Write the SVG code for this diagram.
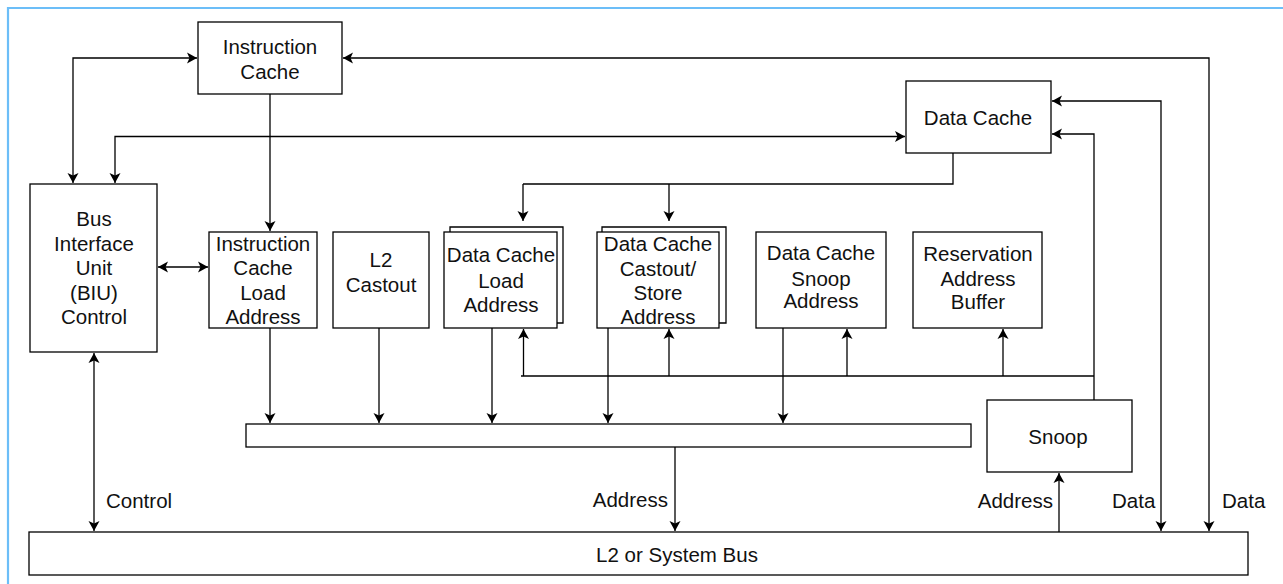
<svg xmlns="http://www.w3.org/2000/svg" width="1283" height="584" viewBox="0 0 1283 584">
<style>
.box{fill:#fff;stroke:#000;stroke-width:1.3}
.ln{fill:none;stroke:#000;stroke-width:1.3}
text{font-family:"Liberation Sans",Arial,sans-serif;font-size:20.5px;fill:#111;text-anchor:middle}
.lbl{text-anchor:start}
.rt{text-anchor:end}
</style>
<defs>
<marker id="ah" viewBox="0 0 10 12" refX="10" refY="6" markerWidth="10" markerHeight="12" markerUnits="userSpaceOnUse" orient="auto-start-reverse">
<path d="M0,0.5 L10,6 L0,11.5 L2.5,6 z" fill="#000"/>
</marker>
</defs>
<rect width="1283" height="584" fill="#fff"/>
<path d="M8,584 V8 H1283" fill="none" stroke="#6cbef8" stroke-width="2.2"/>

<g id="connectors">
<path class="ln" d="M73,183 V58 H197" marker-start="url(#ah)" marker-end="url(#ah)"/>
<path class="ln" d="M115,183 V136.5 H905" marker-start="url(#ah)" marker-end="url(#ah)"/>
<path class="ln" d="M270,94 V231" marker-end="url(#ah)"/>
<path class="ln" d="M158,267 H208" marker-start="url(#ah)" marker-end="url(#ah)"/>
<path class="ln" d="M953,153 V184 H523"/>
<path class="ln" d="M523,184 V221" marker-end="url(#ah)"/>
<path class="ln" d="M669,184 V221" marker-end="url(#ah)"/>
<path class="ln" d="M270,328 V423" marker-end="url(#ah)"/>
<path class="ln" d="M379,328 V423" marker-end="url(#ah)"/>
<path class="ln" d="M492,328 V423" marker-end="url(#ah)"/>
<path class="ln" d="M608,328 V423" marker-end="url(#ah)"/>
<path class="ln" d="M783,328 V423" marker-end="url(#ah)"/>
<path class="ln" d="M675,447 V531" marker-end="url(#ah)"/>
<path class="ln" d="M94,353 V531" marker-start="url(#ah)" marker-end="url(#ah)"/>
<path class="ln" d="M521,376 H1094"/>
<path class="ln" d="M523.5,376 V329" marker-end="url(#ah)"/>
<path class="ln" d="M669,376 V329" marker-end="url(#ah)"/>
<path class="ln" d="M847,376 V329" marker-end="url(#ah)"/>
<path class="ln" d="M1003,376 V329" marker-end="url(#ah)"/>
<path class="ln" d="M1094,400 V134 H1052" marker-end="url(#ah)"/>
<path class="ln" d="M1059,532 V473" marker-end="url(#ah)"/>
<path class="ln" d="M1052,101 H1161 V531" marker-start="url(#ah)" marker-end="url(#ah)"/>
<path class="ln" d="M343,58 H1209 V531" marker-start="url(#ah)" marker-end="url(#ah)"/>
</g>

<g id="instruction-cache">
<rect class="box" x="198" y="22" width="144" height="72"/>
<text x="270" y="54">Instruction</text>
<text x="270" y="79">Cache</text>
</g>
<g id="data-cache">
<rect class="box" x="906" y="81" width="145" height="72"/>
<text x="978" y="125">Data Cache</text>
</g>
<g id="biu">
<rect class="box" x="30" y="184" width="127" height="168"/>
<text x="94" y="226">Bus</text>
<text x="94" y="251">Interface</text>
<text x="94" y="275">Unit</text>
<text x="94" y="300">(BIU)</text>
<text x="94" y="324">Control</text>
</g>
<g id="icla">
<rect class="box" x="209" y="232" width="108" height="96"/>
<text x="263" y="251">Instruction</text>
<text x="263" y="275">Cache</text>
<text x="263" y="300">Load</text>
<text x="263" y="324">Address</text>
</g>
<g id="l2-castout">
<rect class="box" x="333" y="232" width="96" height="96"/>
<text x="381" y="267">L2</text>
<text x="381" y="292">Castout</text>
</g>
<g id="dcla">
<path class="ln" d="M450,232 V227 H563 V323 H557"/>
<rect class="box" x="444" y="232" width="113" height="96"/>
<text x="501" y="262">Data Cache</text>
<text x="501" y="288">Load</text>
<text x="501" y="312">Address</text>
</g>
<g id="dccs">
<path class="ln" d="M602,232 V227 H726 V323 H719"/>
<rect class="box" x="597" y="232" width="122" height="96"/>
<text x="658" y="251">Data Cache</text>
<text x="658" y="276">Castout/</text>
<text x="658" y="300">Store</text>
<text x="658" y="324">Address</text>
</g>
<g id="dcsa">
<rect class="box" x="756" y="232" width="130" height="96"/>
<text x="821" y="260">Data Cache</text>
<text x="821" y="286">Snoop</text>
<text x="821" y="308">Address</text>
</g>
<g id="rab">
<rect class="box" x="913" y="232" width="129" height="96"/>
<text x="978" y="261">Reservation</text>
<text x="978" y="286">Address</text>
<text x="978" y="309">Buffer</text>
</g>
<g id="address-bar">
<rect class="box" x="246" y="424" width="725" height="23"/>
</g>
<g id="snoop">
<rect class="box" x="987" y="400" width="145" height="72"/>
<text x="1058" y="444">Snoop</text>
</g>
<g id="bus">
<rect class="box" x="29" y="532" width="1219" height="43"/>
<text x="677" y="562">L2 or System Bus</text>
</g>
<g id="labels">
<text class="lbl" x="106" y="508">Control</text>
<text class="rt" x="668" y="507">Address</text>
<text class="rt" x="1053" y="508">Address</text>
<text class="lbl" x="1112" y="508">Data</text>
<text class="lbl" x="1222" y="508">Data</text>
</g>
</svg>
